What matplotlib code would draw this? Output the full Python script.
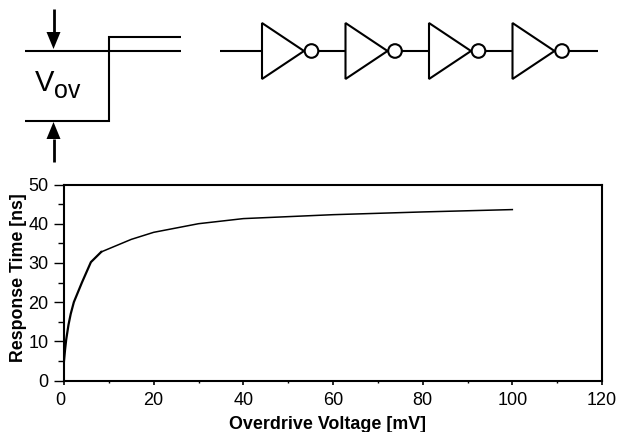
import matplotlib
matplotlib.use("Agg")
import matplotlib.pyplot as plt
from matplotlib import patches
from matplotlib.ticker import MultipleLocator
from matplotlib.transforms import ScaledTranslation

# ---------------------------------
voltage_low = [0, 0.25, 0.5, 1, 1.5, 2.2, 4, 6, 8.3]
response_low = [5, 8, 10.5, 14.2, 17, 20, 25, 30.2, 32.8]
voltage_high = [8.3, 15, 20, 30, 40, 60, 80, 100]
response_high = [32.8, 36, 37.8, 40, 41.3, 42.3, 43, 43.6]

x_ticks = [0, 20, 40, 60, 80, 100, 120]
y_ticks = [0, 10, 20, 30, 40, 50]
inverter_left = [262, 345.5, 429, 512.5]
# ---------------------------------

W, H = 619, 432
plt.rcParams['font.family'] = ['Liberation Sans', 'DejaVu Sans']

fig = plt.figure(figsize=(W / 100, H / 100), dpi=100)

# whole figure in pixel coordinates, for the schematic
bg = fig.add_axes([0, 0, 1, 1])
bg.set_xlim(0, W)
bg.set_ylim(H, 0)
bg.axis('off')


def seg(xs, ys, lw=1.5):
    bg.plot(xs, ys, color='black', lw=lw, solid_capstyle='butt', solid_joinstyle='miter')


def arrow(x, y0, y1, head):
    # shaft from y0 to the base of the head, tip at y1
    d = 1 if y1 > y0 else -1
    seg([x, x], [y0, y1 - d * head], lw=2)
    bg.add_patch(patches.Polygon([[x - 7, y1 - d * head], [x + 7, y1 - d * head], [x, y1]],
                                 fc='black', ec='none'))


# step waveform
seg([25, 181], [51, 51])
seg([25, 109, 109, 181], [120.5, 120.5, 37, 37])
arrow(53.5, 9, 49, 17)
arrow(53.5, 162, 122, 17)
bg.text(35, 91, 'V', fontsize=21, ha='left', va='baseline')
bg.text(54, 98, 'ov', fontsize=18, ha='left', va='baseline')

# inverter chain
seg([220, inverter_left[0]], [51, 51])
for i, left in enumerate(inverter_left):
    bg.add_patch(patches.Polygon([[left, 23], [left, 79], [left + 42, 51]], fc='white', ec='black',
                                 lw=1.5, joinstyle='miter'))
    bg.add_patch(patches.Circle((left + 49.5, 51), 6.8, fc='white', ec='black', lw=1.5))
    end = inverter_left[i + 1] if i < len(inverter_left) - 1 else 598
    seg([left + 56.3, end], [51, 51])

# response curve
ax = fig.add_axes([64 / W, 1 - 380.5 / H, (602 - 64) / W, (380.5 - 184.5) / H])
ax.patch.set_alpha(0)
ax.plot(voltage_low, response_low, color='black', lw=1.6)
ax.plot(voltage_high, response_high, color='black', lw=1.1)
ax.set_xlim(0, 120)
ax.set_ylim(0, 50)
ax.set_xticks(x_ticks)
ax.set_yticks(y_ticks)
ax.xaxis.set_minor_locator(MultipleLocator(10))
ax.yaxis.set_minor_locator(MultipleLocator(5))
ax.tick_params(axis='x', which='major', direction='out', length=3, width=1.2, labelsize=13, pad=5)
ax.tick_params(axis='x', which='minor', direction='out', length=1.5, width=1)
ax.tick_params(axis='y', which='major', direction='out', length=7.5, width=1, labelsize=13, pad=3.7)
ax.tick_params(axis='y', which='minor', direction='out', length=4, width=1)
for s in ax.spines.values():
    s.set_linewidth(1.5)
ax.set_xlabel('Overdrive Voltage [mV]', fontsize=12.9, fontweight='bold', labelpad=5.5, x=0.489)
ax.set_ylabel('Response Time [ns]', fontsize=12.8, fontweight='bold', labelpad=0.7, y=0.525)

# the 0 on the x axis sits a little left of its tick
lab0 = ax.get_xticklabels()[0]
lab0.set_transform(lab0.get_transform() + ScaledTranslation(-4 / 100, 0, fig.dpi_scale_trans))

fig.savefig('out.png', dpi=100)
